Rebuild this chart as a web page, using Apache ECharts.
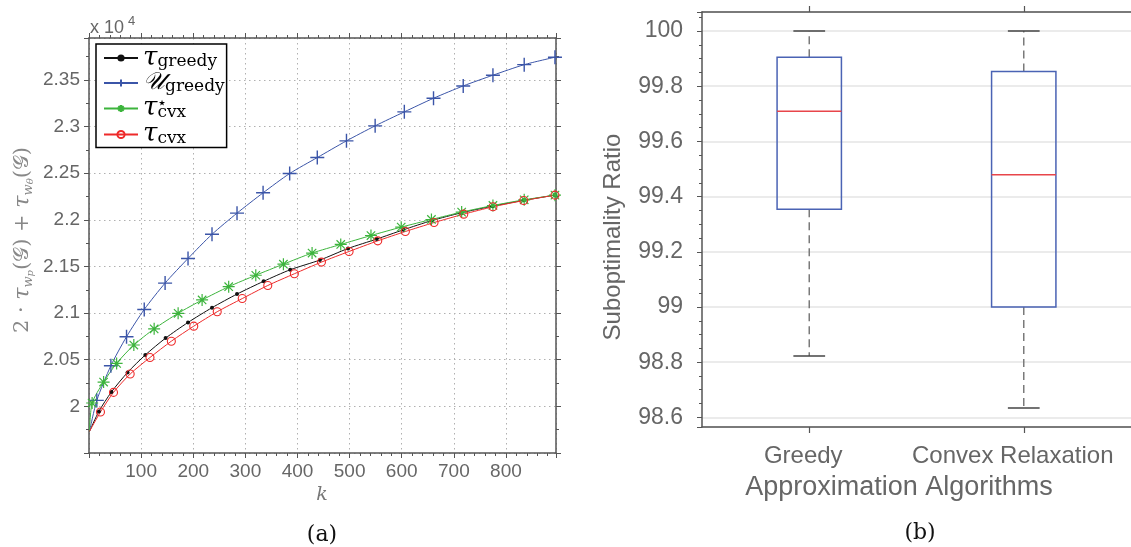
<!DOCTYPE html>
<html>
<head>
<meta charset="utf-8">
<script src="https://cdn.jsdelivr.net/npm/echarts@6/dist/echarts.min.js"></script>
<style>html,body{margin:0;padding:0;background:#fff}#c{width:1131px;height:547px}</style>
</head>
<body>
<div id="c"></div>
<script>
// ---------- Data: panel (a) ----------
const seriesNames = ['τgreedy', '𝒰greedy', 'τ⋆cvx', 'τcvx'];
const kTauGreedy = [1, 19, 43, 74, 108, 147, 190, 236, 284, 335, 386, 443, 497, 552, 603, 658, 714, 774, 834, 894];
const vTauGreedy = [19732, 19946, 20154, 20364, 20551, 20732, 20900, 21058, 21204, 21341, 21465, 21569, 21693, 21794, 21893, 21993, 22075, 22147, 22209, 22265];
const kUGreedy = [1, 15, 42, 72, 106, 146, 190, 236, 284, 334, 385, 438, 494, 549, 605, 661, 718, 775, 835, 894];
const vUGreedy = [19732, 20064, 20436, 20747, 21039, 21322, 21586, 21845, 22072, 22290, 22497, 22668, 22847, 23008, 23158, 23304, 23436, 23551, 23664, 23744];
const kTauCvxStar = [1, 6, 28, 53, 86, 125, 171, 217, 268, 320, 373, 428, 483, 541, 599, 657, 715, 775, 835, 894];
const vTauCvxStar = [19732, 20036, 20261, 20461, 20658, 20831, 20998, 21141, 21283, 21406, 21525, 21644, 21736, 21832, 21922, 22004, 22083, 22154, 22215, 22265];
const kTauCvx = [1, 22, 47, 79, 117, 158, 201, 246, 294, 343, 394, 446, 499, 554, 607, 662, 719, 775, 834, 894];
const vTauCvx = [19732, 19940, 20150, 20347, 20524, 20699, 20860, 21015, 21156, 21296, 21422, 21547, 21661, 21775, 21875, 21971, 22061, 22140, 22207, 22265];

// ---------- Data: panel (b) ----------
const boxCategories = ['Greedy', 'Convex Relaxation'];
const boxMin = [98.822, 98.634];
const boxQ1 = [99.354, 99.0];
const boxMedian = [99.709, 99.479];
const boxQ3 = [99.905, 99.853];
const boxMax = [100.0, 100.0];

const chart = echarts.init(document.getElementById('c'));
const axisGray = '#555';
const labelGray = '#666';
const sans = '"Liberation Sans", Arial, sans-serif';
const serif = '"DejaVu Serif", serif';

function mk(ks, vs) {
  return ks.map((k, i) => i === 0 ? { value: [k, vs[i]], symbol: 'none' } : [k, vs[i]]);
}

const plusPath = 'path://M0,-1L0,1M-1,0L1,0';
const starPath = 'path://M0,-1L0,1M-1,0L1,0M-0.7,-0.7L0.7,0.7M-0.7,0.7L0.7,-0.7';

const colBlack = '#111111', colBlue = '#3b55a8', colGreen = '#3cb43c', colRed = '#ee2a2a';

const legendRich = {
  'τgreedy': '{t|τ}{s|greedy}',
  '𝒰greedy': '{u|𝒰}{s|greedy}',
  'τ⋆cvx': '{t|τ}{st|⋆}{s|cvx}',
  'τcvx': '{t|τ}{s|cvx}'
};

function lineSeries(name, ks, vs, color, symbol, size, extraItem) {
  return {
    name, type: 'line', xAxisIndex: 0, yAxisIndex: 0,
    data: mk(ks, vs), smooth: 0.25,
    showAllSymbol: true, symbol, symbolSize: size,
    color,
    lineStyle: { color, width: 1 },
    itemStyle: Object.assign({ color }, extraItem || {}),
    emphasis: { disabled: true }, animation: false, z: 3
  };
}

const tickFmtLeft = v => String(+(v / 1e4).toFixed(3));
const tickFmtRight = v => (Math.abs(v * 5 - Math.round(v * 5)) < 1e-6) ? String(+v.toFixed(1)) : '';

const option = {
  animation: false,
  grid: [
    { left: 89, top: 38, width: 467, height: 415 },
    { left: 702, top: 12, width: 436, height: 415 }
  ],
  legend: {
    orient: 'vertical', left: 96, top: 44,
    backgroundColor: '#fff', borderColor: '#000', borderWidth: 1.5, borderRadius: 0,
    padding: [1, 2, 0, 7], itemWidth: 34, itemHeight: 9, itemGap: 0,
    selectedMode: false,
    data: seriesNames,
    formatter: name => legendRich[name],
    textStyle: {
      color: '#000',
      rich: {
        t: { fontFamily: serif, fontStyle: 'italic', fontSize: 26, lineHeight: 25, color: '#000' },
        u: { fontFamily: serif, fontStyle: 'italic', fontSize: 24, lineHeight: 25, color: '#000' },
        s: { fontFamily: serif, fontSize: 17, lineHeight: 17, verticalAlign: 'bottom', color: '#000' },
        st: { fontFamily: serif, fontSize: 16, lineHeight: 15, verticalAlign: 'top', width: 0, align: 'left', color: '#000' }
      }
    }
  },
  xAxis: [
    {
      gridIndex: 0, type: 'value', min: 0, max: 896, interval: 100, position: 'bottom',
      axisLine: { show: true, onZero: false, lineStyle: { color: axisGray, width: 1.5 } },
      axisTick: { show: true, length: 5, lineStyle: { color: axisGray, width: 1 } },
      minorTick: { show: true, splitNumber: 5, length: 3, lineStyle: { color: axisGray, width: 1 } },
      axisLabel: { color: labelGray, fontSize: 19, fontFamily: sans, margin: 9, showMinLabel: false, showMaxLabel: false,
        formatter: v => v === 0 ? '' : String(v) },
      splitLine: { show: true, lineStyle: { color: '#b0b0b0', width: 1, type: [1.5, 3.5] } }
    },
    {
      gridIndex: 0, type: 'value', min: 0, max: 896, interval: 100, position: 'top',
      axisLine: { show: true, onZero: false, lineStyle: { color: axisGray, width: 1.5 } },
      axisTick: { show: true, length: 5, lineStyle: { color: axisGray, width: 1 } },
      minorTick: { show: true, splitNumber: 5, length: 3, lineStyle: { color: axisGray, width: 1 } },
      axisLabel: { show: false }, splitLine: { show: false }
    },
    {
      gridIndex: 1, type: 'category', data: boxCategories, position: 'bottom', boundaryGap: true,
      axisLine: { show: true, onZero: false, lineStyle: { color: axisGray, width: 1.5 } },
      axisTick: { show: true, alignWithLabel: true, interval: 0, length: 6, lineStyle: { color: axisGray, width: 1.2 } },
      axisLabel: {
        interval: 0, hideOverlap: false,
        color: labelGray, fontSize: 24, fontFamily: sans, margin: 17,
        formatter: (v, i) => i === 0 ? '{g|' + v + '}' : '{c|' + v + '}',
        rich: {
          g: { fontSize: 24, fontFamily: sans, color: labelGray, padding: [0, 12, 0, 0] },
          c: { fontSize: 24, fontFamily: sans, color: labelGray, padding: [0, 22, 0, 0] }
        }
      },
      splitLine: { show: false }
    },
    {
      gridIndex: 1, type: 'category', data: boxCategories, position: 'top', boundaryGap: true,
      axisLine: { show: true, onZero: false, lineStyle: { color: axisGray, width: 1.5 } },
      axisTick: { show: true, alignWithLabel: true, interval: 0, length: 6, lineStyle: { color: axisGray, width: 1.2 } },
      axisLabel: { show: false }, splitLine: { show: false }
    }
  ],
  yAxis: [
    {
      gridIndex: 0, type: 'value', min: 19500, max: 23950, interval: 500, position: 'left',
      axisLine: { show: true, onZero: false, lineStyle: { color: axisGray, width: 1.5 } },
      axisTick: { show: true, length: 5, lineStyle: { color: axisGray, width: 1 } },
      minorTick: { show: true, splitNumber: 2, length: 3, lineStyle: { color: axisGray, width: 1 } },
      axisLabel: { color: labelGray, fontSize: 19, fontFamily: sans, margin: 9, showMinLabel: false, showMaxLabel: false,
        formatter: tickFmtLeft },
      splitLine: { show: true, lineStyle: { color: '#b0b0b0', width: 1, type: [1.5, 3.5] } }
    },
    {
      gridIndex: 0, type: 'value', min: 19500, max: 23950, interval: 500, position: 'right',
      axisLine: { show: true, onZero: false, lineStyle: { color: axisGray, width: 1.5 } },
      axisTick: { show: true, length: 5, lineStyle: { color: axisGray, width: 1 } },
      minorTick: { show: true, splitNumber: 2, length: 3, lineStyle: { color: axisGray, width: 1 } },
      axisLabel: { show: false }, splitLine: { show: false }
    },
    {
      gridIndex: 1, type: 'value', min: 98.565, max: 100.069, splitNumber: 7, position: 'left',
      axisLine: { show: true, onZero: false, lineStyle: { color: axisGray, width: 1.5 } },
      axisTick: { show: true, length: 5, lineStyle: { color: axisGray, width: 1 } },
      minorTick: { show: true, splitNumber: 4, length: 3, lineStyle: { color: axisGray, width: 1 } },
      axisLabel: { color: labelGray, fontSize: 23, fontFamily: sans, margin: 19, formatter: tickFmtRight },
      splitLine: { show: true, lineStyle: { color: '#e4e4e4', width: 1.5 } }
    }
  ],
  series: [
    lineSeries('τgreedy', kTauGreedy, vTauGreedy, colBlack, 'circle', 4),
    lineSeries('𝒰greedy', kUGreedy, vUGreedy, colBlue, plusPath, 14, { borderColor: colBlue, borderWidth: 1.4 }),
    lineSeries('τ⋆cvx', kTauCvxStar, vTauCvxStar, colGreen, starPath, 12, { borderColor: colGreen, borderWidth: 1.2 }),
    lineSeries('τcvx', kTauCvx, vTauCvx, colRed, 'circle', 8, { color: 'rgba(255,255,255,0)', borderColor: colRed, borderWidth: 1.1 }),
    {
      type: 'custom', xAxisIndex: 2, yAxisIndex: 2, z: 4,
      data: boxCategories.map((c, i) => [i, boxMin[i], boxQ1[i], boxMedian[i], boxQ3[i], boxMax[i]]),
      encode: { x: 0, y: [1, 2, 3, 4, 5] },
      renderItem: function (params, api) {
        const i = api.value(0);
        const pMin = api.coord([i, api.value(1)]);
        const pQ1 = api.coord([i, api.value(2)]);
        const pMed = api.coord([i, api.value(3)]);
        const pQ3 = api.coord([i, api.value(4)]);
        const pMax = api.coord([i, api.value(5)]);
        const band = api.size([1, 0])[0];
        const bw = band * 0.3, cw = band * 0.148;
        const cx = pMed[0];
        const dash = { stroke: '#7a7a7a', lineWidth: 1.5, lineDash: [8, 5], fill: null };
        const cap = { stroke: '#444', lineWidth: 1.5, fill: null };
        return {
          type: 'group',
          children: [
            { type: 'line', shape: { x1: cx, y1: pQ3[1], x2: cx, y2: pMax[1] }, style: dash },
            { type: 'line', shape: { x1: cx, y1: pQ1[1], x2: cx, y2: pMin[1] }, style: dash },
            { type: 'line', shape: { x1: cx - cw / 2, y1: pMax[1], x2: cx + cw / 2, y2: pMax[1] }, style: cap },
            { type: 'line', shape: { x1: cx - cw / 2, y1: pMin[1], x2: cx + cw / 2, y2: pMin[1] }, style: cap },
            { type: 'rect', shape: { x: cx - bw / 2, y: pQ3[1], width: bw, height: pQ1[1] - pQ3[1] },
              style: { fill: 'none', stroke: '#4a63b4', lineWidth: 1.5 } },
            { type: 'line', shape: { x1: cx - bw / 2, y1: pMed[1], x2: cx + bw / 2, y2: pMed[1] },
              style: { stroke: '#e8454a', lineWidth: 1.5 } }
          ]
        };
      }
    }
  ],
  graphic: [
    { type: 'text', x: 90, y: 28, style: { text: 'x 10', fontSize: 18, fontFamily: sans, fill: labelGray, align: 'left', verticalAlign: 'middle' } },
    { type: 'text', x: 128, y: 21, style: { text: '4', fontSize: 13, fontFamily: sans, fill: labelGray, align: 'left', verticalAlign: 'middle' } },
    { type: 'text', x: 322, y: 495, style: { text: 'k', fontSize: 19, fontStyle: 'italic', fontFamily: serif, fill: '#777', align: 'center', verticalAlign: 'middle' } },
    { type: 'text', x: 322, y: 535, style: { text: '(a)', fontSize: 22, fontFamily: serif, fill: '#111', align: 'center', verticalAlign: 'middle' } },
    { type: 'text', x: 920, y: 533, style: { text: '(b)', fontSize: 22, fontFamily: serif, fill: '#111', align: 'center', verticalAlign: 'middle' } },
    { type: 'text', x: 899, y: 488, style: { text: 'Approximation Algorithms', fontSize: 27, fontFamily: sans, fill: labelGray, align: 'center', verticalAlign: 'middle' } },
    { type: 'text', x: 613, y: 237, rotation: Math.PI / 2, style: { text: 'Suboptimality Ratio', fontSize: 24, fontFamily: sans, fill: labelGray, align: 'center', verticalAlign: 'middle' } },
    { type: 'text', x: 23, y: 240, rotation: Math.PI / 2, style: {
        text: '{n|2 · }{t|τ}{w|w}{p|p}{n|(𝒢) + }{t|τ}{w|w}{p|θ}{n|(𝒢)}',
        align: 'center', verticalAlign: 'middle', fill: '#888',
        rich: {
          n: { fontFamily: serif, fontSize: 21, lineHeight: 24, fill: '#888' },
          t: { fontFamily: serif, fontStyle: 'italic', fontSize: 22, lineHeight: 24, fill: '#888' },
          w: { fontFamily: serif, fontStyle: 'italic', fontSize: 13, lineHeight: 16, verticalAlign: 'bottom', fill: '#888' },
          p: { fontFamily: serif, fontStyle: 'italic', fontSize: 10, lineHeight: 10, verticalAlign: 'bottom', fill: '#888' }
        }
      } }
  ]
};
chart.setOption(option);
</script>
</body>
</html>
